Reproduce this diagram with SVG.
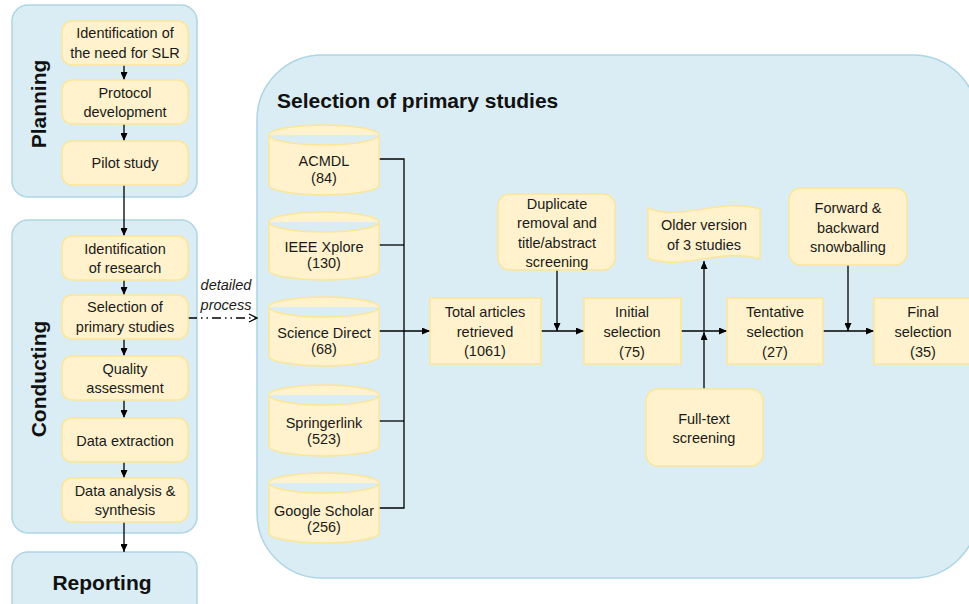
<svg xmlns="http://www.w3.org/2000/svg" width="969" height="604" viewBox="0 0 969 604">
<defs>
<style>
.cont{fill:#daedf4;stroke:#aed5e4;stroke-width:1.5}
.node{fill:#fff2cc;stroke:#fde598;stroke-width:1.5}
.t{font-family:"Liberation Sans",Arial,sans-serif;font-size:14.5px;fill:#1a1a1a;text-anchor:middle}
.h{font-family:"Liberation Sans",Arial,sans-serif;font-size:21px;font-weight:bold;fill:#111;text-anchor:middle}
.ln{fill:none;stroke:#000;stroke-width:1.3}
</style>
<marker id="ar" viewBox="0 0 8 7" refX="8" refY="3.5" markerWidth="8" markerHeight="7" markerUnits="userSpaceOnUse" orient="auto">
<path d="M0,0 L8,3.5 L0,7 z" fill="#000"/>
</marker>
<marker id="op" viewBox="0 0 10 10" refX="9" refY="5" markerWidth="10" markerHeight="10" markerUnits="userSpaceOnUse" orient="auto">
<path d="M1,1 L9,5 L1,9" fill="none" stroke="#000" stroke-width="1.3"/>
</marker>
</defs>

<g id="containers">
<g id="planning"><rect class="cont" x="12" y="5" width="185" height="192" rx="16"/>
<text class="h" transform="translate(46,104) rotate(-90)">Planning</text></g>
<g id="conducting"><rect class="cont" x="12" y="220" width="185" height="313" rx="16"/>
<text class="h" transform="translate(46,379) rotate(-90)">Conducting</text></g>
<g id="reporting"><rect class="cont" x="12" y="552" width="185" height="80" rx="16"/>
<text class="h" x="102" y="590">Reporting</text></g>
<g id="selection-container"><rect class="cont" x="257" y="55" width="721" height="523" rx="65"/>
<text class="h" x="277" y="108" style="text-anchor:start">Selection of primary studies</text></g>
</g>

<g id="connectors">
<line class="ln" x1="124" y1="65" x2="124" y2="80" marker-end="url(#ar)"/>
<line class="ln" x1="124" y1="124" x2="124" y2="141" marker-end="url(#ar)"/>
<line class="ln" x1="124" y1="185" x2="124" y2="236" marker-end="url(#ar)"/>
<line class="ln" x1="124" y1="280" x2="124" y2="295" marker-end="url(#ar)"/>
<line class="ln" x1="124" y1="339" x2="124" y2="356" marker-end="url(#ar)"/>
<line class="ln" x1="124" y1="400" x2="124" y2="418" marker-end="url(#ar)"/>
<line class="ln" x1="124" y1="462" x2="124" y2="478" marker-end="url(#ar)"/>
<line class="ln" x1="124" y1="522" x2="124" y2="552" marker-end="url(#ar)"/>
<line class="ln" x1="188" y1="318" x2="257" y2="318" stroke-dasharray="9 4 1.5 4 1.5 4" marker-end="url(#op)"/>
<path class="ln" d="M379,159 H404 V508 H379"/>
<path class="ln" d="M379,245 H404"/>
<path class="ln" d="M379,421 H404"/>
<line class="ln" x1="379" y1="331" x2="430" y2="331" marker-end="url(#ar)"/>
<line class="ln" x1="541" y1="331" x2="584" y2="331" marker-end="url(#ar)"/>
<line class="ln" x1="557" y1="270" x2="557" y2="331" marker-end="url(#ar)"/>
<line class="ln" x1="681" y1="331" x2="727" y2="331" marker-end="url(#ar)"/>
<line class="ln" x1="704" y1="331" x2="704" y2="261" marker-end="url(#ar)"/>
<line class="ln" x1="704" y1="389" x2="704" y2="332" marker-end="url(#ar)"/>
<line class="ln" x1="823" y1="331" x2="874" y2="331" marker-end="url(#ar)"/>
<line class="ln" x1="848" y1="265" x2="848" y2="331" marker-end="url(#ar)"/>
<text class="t" x="226" y="290" font-style="italic">detailed</text>
<text class="t" x="226" y="310" font-style="italic">process</text>
</g>

<g id="n-need"><rect class="node" x="62" y="21" width="126" height="44" rx="10"/>
<text class="t" x="125" y="38">Identification of</text><text class="t" x="125" y="58">the need for SLR</text></g>
<g id="n-protocol"><rect class="node" x="62" y="80" width="126" height="44" rx="10"/>
<text class="t" x="125" y="98">Protocol</text><text class="t" x="125" y="117">development</text></g>
<g id="n-pilot"><rect class="node" x="62" y="141" width="126" height="44" rx="10"/>
<text class="t" x="125" y="168">Pilot study</text></g>
<g id="n-ident"><rect class="node" x="62" y="236" width="126" height="44" rx="10"/>
<text class="t" x="125" y="254">Identification</text><text class="t" x="125" y="273">of research</text></g>
<g id="n-select"><rect class="node" x="62" y="295" width="126" height="44" rx="10"/>
<text class="t" x="125" y="312">Selection of</text><text class="t" x="125" y="332">primary studies</text></g>
<g id="n-quality"><rect class="node" x="62" y="356" width="126" height="44" rx="10"/>
<text class="t" x="125" y="374">Quality</text><text class="t" x="125" y="393">assessment</text></g>
<g id="n-extract"><rect class="node" x="62" y="418" width="126" height="44" rx="10"/>
<text class="t" x="125" y="446">Data extraction</text></g>
<g id="n-analysis"><rect class="node" x="62" y="478" width="126" height="44" rx="10"/>
<text class="t" x="125" y="496">Data analysis &amp;</text><text class="t" x="125" y="515">synthesis</text></g>

<g id="db-acmdl"><path class="node" d="M269,135 A55,10 0 0 1 379,135 V185 A55,10 0 0 1 269,185 Z M269,135 A55,10 0 0 0 379,135"/>
<text class="t" x="324" y="166">ACMDL</text><text class="t" x="324" y="183">(84)</text></g>
<g id="db-ieee"><path class="node" d="M269,222 A55,10 0 0 1 379,222 V270 A55,10 0 0 1 269,270 Z M269,222 A55,10 0 0 0 379,222"/>
<text class="t" x="324" y="252">IEEE Xplore</text><text class="t" x="324" y="268">(130)</text></g>
<g id="db-sd"><path class="node" d="M269,307 A55,10 0 0 1 379,307 V356 A55,10 0 0 1 269,356 Z M269,307 A55,10 0 0 0 379,307"/>
<text class="t" x="324" y="338">Science Direct</text><text class="t" x="324" y="354">(68)</text></g>
<g id="db-springer"><path class="node" d="M269,395 A55,10 0 0 1 379,395 V446 A55,10 0 0 1 269,446 Z M269,395 A55,10 0 0 0 379,395"/>
<text class="t" x="324" y="428">Springerlink</text><text class="t" x="324" y="444">(523)</text></g>
<g id="db-google"><path class="node" d="M269,483 A55,10 0 0 1 379,483 V533 A55,10 0 0 1 269,533 Z M269,483 A55,10 0 0 0 379,483"/>
<text class="t" x="324" y="516">Google Scholar</text><text class="t" x="324" y="532">(256)</text></g>

<g id="n-total"><rect class="node" x="430" y="298" width="111" height="66"/>
<text class="t" x="485" y="317">Total articles</text><text class="t" x="485" y="337">retrieved</text><text class="t" x="485" y="356">(1061)</text></g>
<g id="n-dup"><rect class="node" x="498" y="194" width="117" height="76" rx="12"/>
<text class="t" x="557" y="209">Duplicate</text><text class="t" x="557" y="228">removal and</text><text class="t" x="557" y="248">title/abstract</text><text class="t" x="557" y="267">screening</text></g>
<g id="n-initial"><rect class="node" x="584" y="298" width="97" height="66"/>
<text class="t" x="632" y="317">Initial</text><text class="t" x="632" y="337">selection</text><text class="t" x="632" y="357">(75)</text></g>
<g id="n-older"><path class="node" d="M648,208 C680,222 722,197 760,209 V259 C722,247 680,272 648,258 Z"/>
<text class="t" x="704" y="230">Older version</text><text class="t" x="704" y="250">of 3 studies</text></g>
<g id="n-fulltext"><rect class="node" x="646" y="389" width="117" height="77" rx="12"/>
<text class="t" x="704" y="424">Full-text</text><text class="t" x="704" y="443">screening</text></g>
<g id="n-tentative"><rect class="node" x="727" y="298" width="96" height="66"/>
<text class="t" x="775" y="317">Tentative</text><text class="t" x="775" y="337">selection</text><text class="t" x="775" y="357">(27)</text></g>
<g id="n-forward"><rect class="node" x="789" y="188" width="118" height="77" rx="12"/>
<text class="t" x="848" y="213">Forward &amp;</text><text class="t" x="848" y="233">backward</text><text class="t" x="848" y="252">snowballing</text></g>
<g id="n-final"><rect class="node" x="874" y="298" width="98" height="66"/>
<text class="t" x="923" y="317">Final</text><text class="t" x="923" y="337">selection</text><text class="t" x="923" y="357">(35)</text></g>
</svg>
